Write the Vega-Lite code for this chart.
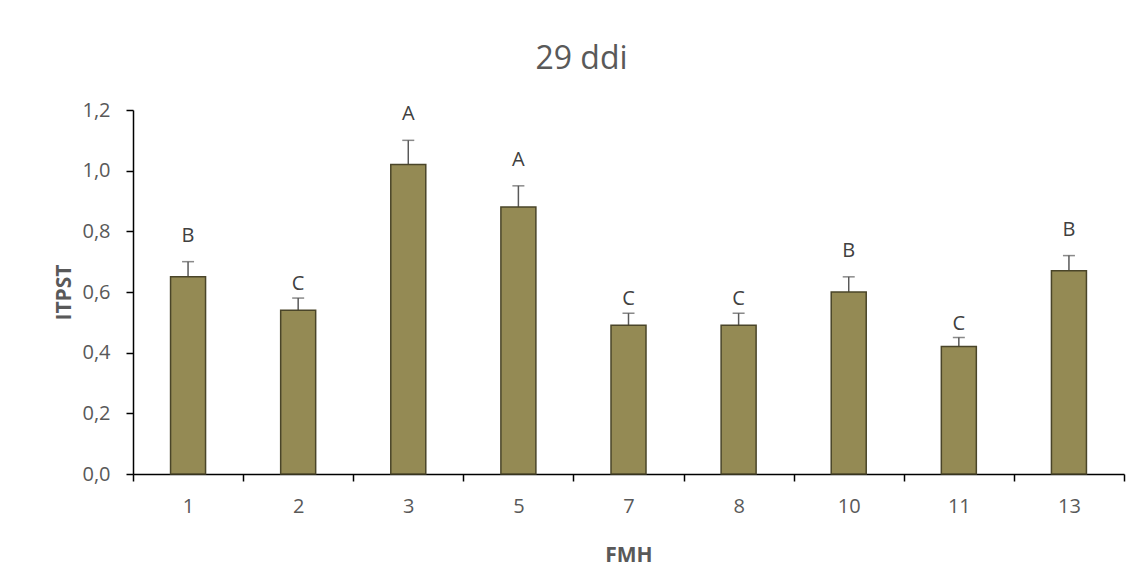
{
  "$schema": "https://vega.github.io/schema/vega-lite/v6.json",
  "autosize": {"type": "none"},
  "padding": {"left": 133, "top": 110, "right": 22, "bottom": 111},
  "width": 991,
  "height": 364,
  "background": "white",
  "config": {
    "view": {"stroke": null},
    "font": "Open Sans"
  },
  "title": {
    "text": "29 ddi",
    "fontSize": 32,
    "fontWeight": "normal",
    "color": "#595959",
    "font": "Open Sans",
    "anchor": "middle",
    "frame": "group",
    "dx": -47,
    "dy": 6,
    "offset": 30
  },
  "data": {
    "values": [
      {"FMH": "1", "ITPST": 0.65, "err": 0.70, "letra": "B"},
      {"FMH": "2", "ITPST": 0.54, "err": 0.58, "letra": "C"},
      {"FMH": "3", "ITPST": 1.02, "err": 1.10, "letra": "A"},
      {"FMH": "5", "ITPST": 0.88, "err": 0.95, "letra": "A"},
      {"FMH": "7", "ITPST": 0.49, "err": 0.53, "letra": "C"},
      {"FMH": "8", "ITPST": 0.49, "err": 0.53, "letra": "C"},
      {"FMH": "10", "ITPST": 0.60, "err": 0.65, "letra": "B"},
      {"FMH": "11", "ITPST": 0.42, "err": 0.45, "letra": "C"},
      {"FMH": "13", "ITPST": 0.67, "err": 0.72, "letra": "B"}
    ]
  },
  "encoding": {
    "x": {
      "field": "FMH",
      "type": "ordinal",
      "sort": null,
      "scale": {"paddingInner": 0, "paddingOuter": 0},
      "axis": {
        "title": "FMH",
        "titleFontSize": 21,
        "titleFontWeight": "bold",
        "titleColor": "#595959",
        "titlePadding": 28,
        "labelAngle": 0,
        "labelFontSize": 20,
        "labelColor": "#595959",
        "labelPadding": 15,
        "tickBand": "extent",
        "tickSize": 7,
        "tickColor": "#000000",
        "tickWidth": 1.5,
        "domainColor": "#000000",
        "domainWidth": 1.5,
        "grid": false
      }
    }
  },
  "layer": [
    {
      "mark": {"type": "rule", "color": "#595959", "strokeWidth": 1.5},
      "encoding": {
        "y": {"field": "ITPST", "type": "quantitative"},
        "y2": {"field": "err"}
      }
    },
    {
      "mark": {"type": "tick", "orient": "horizontal", "color": "#595959", "size": 12, "thickness": 1.5},
      "encoding": {
        "y": {"field": "err", "type": "quantitative"}
      }
    },
    {
      "mark": {"type": "bar", "size": 35, "fill": "#948A54", "stroke": "#4A4529", "strokeWidth": 1.5},
      "encoding": {
        "y": {
          "field": "ITPST",
          "type": "quantitative",
          "scale": {"domain": [0, 1.2], "nice": false},
          "axis": {
            "title": "ITPST",
            "titleFontSize": 21,
            "titleFontWeight": "bold",
            "titleColor": "#595959",
            "titlePadding": 7,
            "values": [0, 0.2, 0.4, 0.6, 0.8, 1.0, 1.2],
            "labelExpr": "replace(format(datum.value, '.1f'), '.', ',')",
            "labelFontSize": 20,
            "labelColor": "#595959",
            "labelPadding": 16,
            "tickSize": 7,
            "tickColor": "#000000",
            "tickWidth": 1.5,
            "domainColor": "#000000",
            "domainWidth": 1.5,
            "grid": false
          }
        }
      }
    },
    {
      "transform": [{"filter": "datum.letra === 'C'"}],
      "mark": {"type": "text", "fontSize": 20, "color": "#404040", "baseline": "middle", "dy": -14},
      "encoding": {
        "y": {"field": "err", "type": "quantitative"},
        "text": {"field": "letra"}
      }
    },
    {
      "transform": [{"filter": "datum.letra !== 'C'"}],
      "mark": {"type": "text", "fontSize": 20, "color": "#404040", "baseline": "middle", "dy": -26},
      "encoding": {
        "y": {"field": "err", "type": "quantitative"},
        "text": {"field": "letra"}
      }
    }
  ]
}
